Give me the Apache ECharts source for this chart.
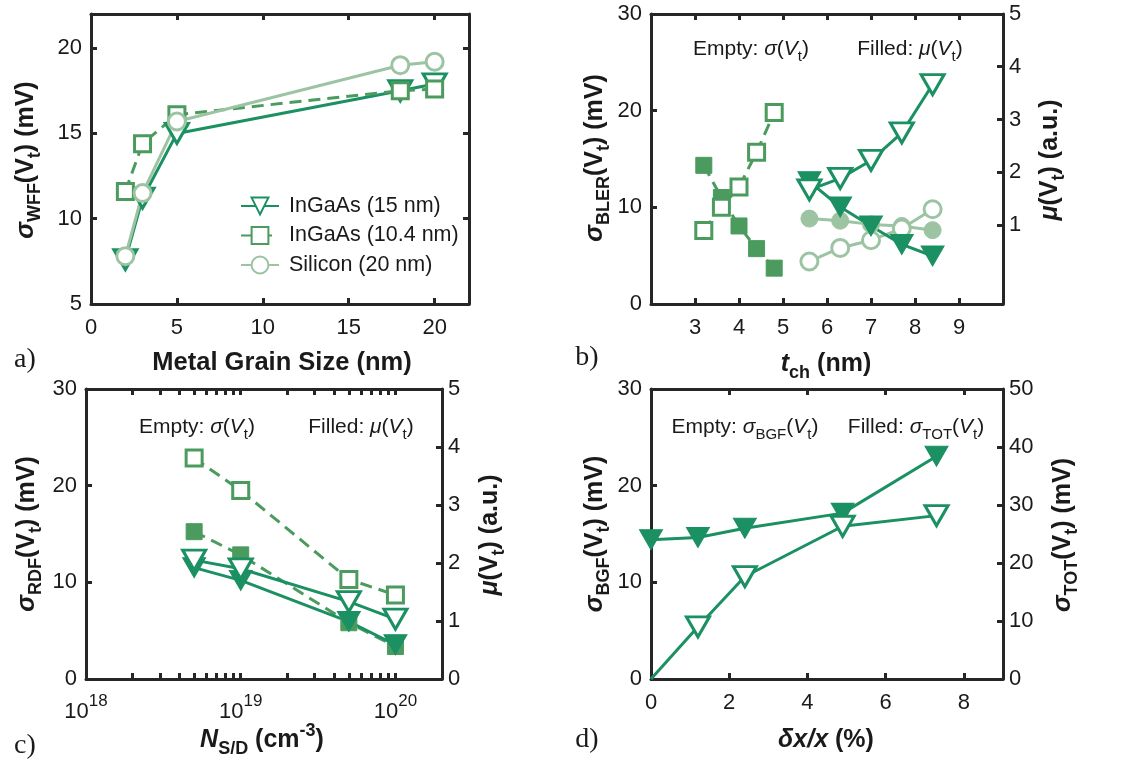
<!DOCTYPE html>
<html><head><meta charset="utf-8">
<script src="https://cdn.jsdelivr.net/npm/echarts@6/dist/echarts.min.js"></script>
<style>html,body{margin:0;padding:0;background:#fff}#c{width:1128px;height:764px}</style>
</head><body><div id="c"></div>
<script>
// ---------- data ----------
// panel a
const grainSize = [2, 3, 5, 18, 20];
const wffInGaAs15 = [7.6, 11.2, 15.0, 17.5, 17.9];
const wffInGaAs104 = [11.6, 14.4, 16.1, 17.5, 17.6];
const wffSilicon = [7.8, 11.5, 15.7, 19.0, 19.2];
const legendNames = ['InGaAs (15 nm)', 'InGaAs (10.4 nm)', 'Silicon (20 nm)'];
// panel b
const tchSquares = [3.2, 3.6, 4.0, 4.4, 4.8];
const blerSigmaSq = [7.6, 10.0, 12.1, 15.7, 19.8];
const blerMuSq = [2.13, 1.52, 0.98, 0.55, 0.18];
const tchOther = [5.6, 6.3, 7.0, 7.7, 8.4];
const blerSigmaTri = [11.8, 13.0, 14.85, 17.7, 22.7];
const blerMuTri = [1.82, 1.34, 0.98, 0.63, 0.41];
const blerSigmaCirc = [4.4, 5.8, 6.6, 7.8, 9.8];
const blerMuCirc = [1.12, 1.08, 1.01, 0.98, 0.9];
// panel c
const nsd = [5e18, 1e19, 5e19, 1e20];
const rdfSigmaSq = [22.85, 19.5, 10.3, 8.7];
const rdfMuSq = [2.54, 2.14, 0.97, 0.56];
const rdfSigmaTri = [12.3, 11.4, 8.0, 6.2];
const rdfMuTri = [1.92, 1.70, 0.99, 0.59];
const logMajor = [1e18, 1e19, 1e20];
const logMinor = [1e18,2e18,3e18,4e18,5e18,6e18,7e18,8e18,9e18,1e19,2e19,3e19,4e19,5e19,6e19,7e19,8e19,9e19,1e20,2e20];
// panel d
const dxx = [0, 1.2, 2.4, 4.9, 7.3];
const bgfSigma = [0, 5.4, 10.6, 15.8, 16.9];
const totSigma = [24.0, 24.4, 26.0, 28.6, 38.4];

// ---------- style ----------
const AX = '#262626', TXT = '#1a1a1a', F = 'Liberation Sans';
const C1 = '#1b9062', C2 = '#4b9b5f', C3 = '#9cc4a3';

function axisObj(o) {
  const a = {
    type: o.type || 'value', gridIndex: o.grid, position: o.pos,
    min: o.min, max: o.max, splitLine: {show: false},
    axisLine: {show: true, onZero: false, lineStyle: {color: AX, width: 3}},
    axisTick: {show: true, inside: true, length: 6, lineStyle: {color: AX, width: 3}},
    axisLabel: {show: !!o.labels, color: TXT, fontFamily: F, fontSize: 22, margin: o.margin || 10,
      showMinLabel: o.showMin !== false, showMaxLabel: o.showMax !== false}
  };
  if (o.interval != null) a.interval = o.interval;
  if (o.splitNumber) a.splitNumber = o.splitNumber;
  if (o.tickValues) a.axisTick.customValues = o.tickValues;
  if (o.labelValues) a.axisLabel.customValues = o.labelValues;
  if (o.formatter) a.axisLabel.formatter = o.formatter;
  if (o.rich) a.axisLabel.rich = o.rich;
  return a;
}

const logFmt = v => '{base|10}{sup|' + Math.round(Math.log10(v)) + '}';
const logRich = {
  base: {fontFamily: F, fontSize: 22, lineHeight: 38, color: TXT},
  sup: {fontFamily: F, fontSize: 17, lineHeight: 17, verticalAlign: 'top', color: TXT}
};

const xAxes = [
  axisObj({grid: 0, pos: 'bottom', min: 0, max: 22, interval: 5, labels: true, showMax: false, margin: 13}),
  axisObj({grid: 0, pos: 'top', min: 0, max: 22, interval: 5}),
  axisObj({grid: 1, pos: 'bottom', min: 2, max: 10, interval: 1, labels: true, showMin: false, showMax: false, margin: 13}),
  axisObj({grid: 1, pos: 'top', min: 2, max: 10, interval: 1}),
  axisObj({grid: 2, type: 'log', pos: 'bottom', min: 1e18, max: 2e20, labels: true, margin: 14,
    tickValues: logMinor, labelValues: logMajor, formatter: logFmt, rich: logRich}),
  axisObj({grid: 2, type: 'log', pos: 'top', min: 1e18, max: 2e20, tickValues: logMinor}),
  axisObj({grid: 3, pos: 'bottom', min: 0, max: 9, interval: 2, labels: true, showMax: false, margin: 13}),
  axisObj({grid: 3, pos: 'top', min: 0, max: 9, interval: 2})
];
const yAxes = [
  axisObj({grid: 0, pos: 'left', min: 5, max: 22, interval: 5, labels: true, showMax: false, margin: 9}),
  axisObj({grid: 0, pos: 'right', min: 5, max: 22, interval: 5}),
  axisObj({grid: 1, pos: 'left', min: 0, max: 30, interval: 10, labels: true, margin: 9}),
  axisObj({grid: 1, pos: 'right', min: -0.5, max: 5, splitNumber: 5, labels: true, showMin: false, margin: 6,
    tickValues: [0, 1, 2, 3, 4, 5], labelValues: [0, 1, 2, 3, 4, 5]}),
  axisObj({grid: 2, pos: 'left', min: 0, max: 30, interval: 10, labels: true, margin: 9}),
  axisObj({grid: 2, pos: 'right', min: 0, max: 5, interval: 1, labels: true, margin: 6}),
  axisObj({grid: 3, pos: 'left', min: 0, max: 30, interval: 10, labels: true, margin: 9}),
  axisObj({grid: 3, pos: 'right', min: 0, max: 50, interval: 10, labels: true, margin: 6})
];

function ser(name, xs, ys, xi, yi, color, symbol, filled, size, dashed) {
  return {
    type: 'line', name: name, xAxisIndex: xi, yAxisIndex: yi,
    data: xs.map((x, i) => [x, ys[i]]),
    symbol: symbol, symbolSize: size, symbolRotate: symbol === 'triangle' ? 180 : 0,
    showAllSymbol: true, animation: false, silent: true,
    lineStyle: {color: color, width: 3, type: dashed ? [12, 7] : 'solid'},
    itemStyle: filled ? {color: color, borderColor: color, borderWidth: 1}
                      : {color: '#fff', borderColor: color, borderWidth: 3},
    emphasis: {disabled: true}
  };
}

const TRI = [23, 20], SQ = 16, CI = 17;
const dSeries = ser('dBGF', dxx, bgfSigma, 6, 6, C1, 'triangle', false, TRI, false);
dSeries.data[0] = {value: [dxx[0], bgfSigma[0]], symbol: 'none'};

const series = [
  // a
  ser(legendNames[0], grainSize, wffInGaAs15, 0, 0, C1, 'triangle', false, TRI, false),
  ser(legendNames[1], grainSize, wffInGaAs104, 0, 0, C2, 'rect', false, SQ, true),
  ser(legendNames[2], grainSize, wffSilicon, 0, 0, C3, 'circle', false, CI, false),
  // b
  ser('bSq', tchSquares, blerMuSq, 2, 3, C2, 'rect', true, SQ, true),
  ser('bSqE', tchSquares, blerSigmaSq, 2, 2, C2, 'rect', false, SQ, true),
  ser('bCi', tchOther, blerMuCirc, 2, 3, C3, 'circle', true, CI, false),
  ser('bCiE', tchOther, blerSigmaCirc, 2, 2, C3, 'circle', false, CI, false),
  ser('bTr', tchOther, blerMuTri, 2, 3, C1, 'triangle', true, TRI, false),
  ser('bTrE', tchOther, blerSigmaTri, 2, 2, C1, 'triangle', false, TRI, false),
  // c
  ser('cSqE', nsd, rdfSigmaSq, 4, 4, C2, 'rect', false, SQ, true),
  ser('cSq', nsd, rdfMuSq, 4, 5, C2, 'rect', true, SQ, true),
  ser('cTr', nsd, rdfMuTri, 4, 5, C1, 'triangle', true, TRI, false),
  ser('cTrE', nsd, rdfSigmaTri, 4, 4, C1, 'triangle', false, TRI, false),
  // d
  ser('dTOT', dxx, totSigma, 6, 7, C1, 'triangle', true, TRI, false),
  dSeries
];

function rs(size, weight, style, lh, va, fam) {
  const o = {fontFamily: fam || F, fontSize: size, fontWeight: weight, fontStyle: style, lineHeight: lh, fill: TXT, color: TXT};
  if (va) o.verticalAlign = va;
  return o;
}
const RT = {
  b: rs(25, 'bold', 'normal', 36), bi: rs(25, 'bold', 'italic', 36),
  sub: rs(18, 'bold', 'normal', 18, 'bottom'), sup: rs(18, 'bold', 'normal', 18, 'top')
};
const RTX = {b: rs(25.5, 'bold', 'normal', 32)};
const RN = {
  r: rs(21, 'normal', 'normal', 31), i: rs(21, 'normal', 'italic', 31),
  sub: rs(15, 'normal', 'normal', 15, 'bottom')
};
const RP = {p: rs(28, 'normal', 'normal', 32, null, 'Liberation Serif')};

function txt(x, y, text, rich, rot) {
  return {type: 'text', x: x, y: y, rotation: rot || 0, silent: true, z: 100,
    style: {text: text, rich: rich, align: 'center', verticalAlign: 'middle', textAlign: 'center', textVerticalAlign: 'middle'}};
}
const R90 = Math.PI / 2;
const graphics = [
  // axis titles
  txt(26, 160, '{bi|σ}{sub|WFF}{b|(V}{sub|t}{b|) (mV)}', RT, R90),
  txt(282, 363, '{b|Metal Grain Size (nm)}', RTX, 0),
  txt(595, 158, '{bi|σ}{sub|BLER}{b|(V}{sub|t}{b|) (mV)}', RT, R90),
  txt(1050, 160, '{bi|μ}{b|(V}{sub|t}{b|) (a.u.)}', RT, R90),
  txt(826, 364, '{bi|t}{sub|ch}{b| (nm)}', RT, 0),
  txt(27, 534, '{bi|σ}{sub|RDF}{b|(V}{sub|t}{b|) (mV)}', RT, R90),
  txt(490, 535, '{bi|μ}{b|(V}{sub|t}{b|) (a.u.)}', RT, R90),
  txt(262, 740, '{bi|N}{sub|S/D}{b| (cm}{sup|-3}{b|)}', RT, 0),
  txt(595, 534, '{bi|σ}{sub|BGF}{b|(V}{sub|t}{b|) (mV)}', RT, R90),
  txt(1063, 535, '{bi|σ}{sub|TOT}{b|(V}{sub|t}{b|) (mV)}', RT, R90),
  txt(826, 740, '{bi|δx/x}{b| (%)}', RT, 0),
  // annotations
  txt(751, 49, '{r|Empty: }{i|σ}{r|(}{i|V}{sub|t}{r|)}', RN, 0),
  txt(910, 49, '{r|Filled: }{i|μ}{r|(}{i|V}{sub|t}{r|)}', RN, 0),
  txt(197, 427, '{r|Empty: }{i|σ}{r|(}{i|V}{sub|t}{r|)}', RN, 0),
  txt(361, 427, '{r|Filled: }{i|μ}{r|(}{i|V}{sub|t}{r|)}', RN, 0),
  txt(745, 427, '{r|Empty: }{i|σ}{sub|BGF}{r|(}{i|V}{sub|t}{r|)}', RN, 0),
  txt(916, 427, '{r|Filled: }{i|σ}{sub|TOT}{r|(}{i|V}{sub|t}{r|)}', RN, 0),
  // panel letters
  txt(25, 360, '{p|a)}', RP, 0),
  txt(587, 358, '{p|b)}', RP, 0),
  txt(25, 746, '{p|c)}', RP, 0),
  txt(587, 740, '{p|d)}', RP, 0)
];

const chart = echarts.init(document.getElementById('c'), null, {renderer: 'canvas'});
chart.setOption({
  animation: false,
  backgroundColor: '#fff',
  grid: [
    {left: 91, top: 14, width: 378, height: 290, outerBoundsMode: 'none'},
    {left: 651, top: 14, width: 352, height: 290, outerBoundsMode: 'none'},
    {left: 86, top: 389, width: 356, height: 290, outerBoundsMode: 'none'},
    {left: 651, top: 389, width: 352, height: 290, outerBoundsMode: 'none'}
  ],
  xAxis: xAxes,
  yAxis: yAxes,
  legend: {
    data: legendNames, orient: 'vertical', left: 235, top: 190,
    itemWidth: 38, itemHeight: 21, itemGap: 7.5, selectedMode: false,
    textStyle: {fontFamily: F, fontSize: 21.5, color: TXT, padding: [0, 0, 0, 5]}
  },
  series: series,
  graphic: graphics
});
</script></body></html>
